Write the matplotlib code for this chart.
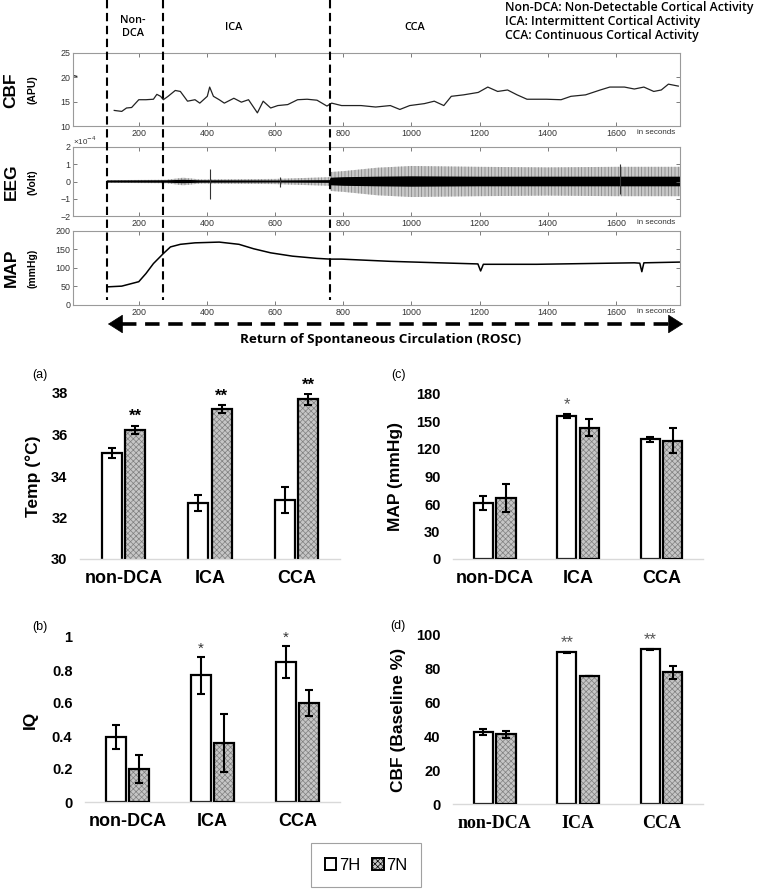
import matplotlib
matplotlib.use('Agg')
import matplotlib.pyplot as plt
import numpy as np
from matplotlib.patches import Patch, FancyArrowPatch
from matplotlib.lines import Line2D
from matplotlib.transforms import blended_transform_factory

plt.rcParams['font.family'] = ['Liberation Sans', 'DejaVu Sans']
plt.rcParams['hatch.linewidth'] = 0.5

# ---------------- time-series data ----------------
phase_bounds = [107, 272, 762]
phase_names = ['Non-\nDCA', 'ICA', 'CCA']
phase_label_t = [182, 479, 1010]

cbf_base_t = [7, 18]
cbf_base_v = [20.4, 20.2]
cbf_t = [128, 150, 164, 179, 200, 221, 243, 253, 264, 272, 286, 307, 322, 343, 365, 379,
         401, 408, 419, 436, 451, 479, 501, 522, 548, 565, 587, 608, 637, 666, 694, 723,
         752, 766, 795, 852, 895, 938, 966, 995, 1038, 1067, 1095, 1117, 1153, 1196, 1224,
         1253, 1282, 1310, 1339, 1396, 1439, 1468, 1511, 1554, 1582, 1625, 1654, 1682,
         1711, 1733, 1754, 1783]
cbf_v = [13.2, 13.0, 13.7, 13.8, 15.4, 15.4, 15.5, 16.5, 16.1, 15.4, 16.1, 17.3, 17.1, 15.1,
         15.4, 14.7, 16.1, 18.0, 16.1, 15.4, 14.7, 15.7, 14.9, 15.4, 12.7, 15.1, 13.7, 14.2,
         14.4, 15.4, 15.5, 15.3, 14.1, 14.7, 14.2, 14.2, 13.9, 14.2, 13.4, 14.2, 14.6, 15.1,
         14.2, 16.1, 16.4, 16.9, 18.0, 17.1, 17.4, 16.4, 15.5, 15.5, 15.4, 16.1, 16.4, 17.4,
         18.0, 18.0, 17.6, 18.0, 17.1, 17.4, 18.6, 18.2]

# EEG amplitude envelopes (x1e-4 V)
eeg_t = [107, 280, 330, 380, 600, 760, 763, 800, 900, 1000, 1200, 1400, 1600, 1788]
eeg_outer = [0.08, 0.10, 0.22, 0.12, 0.15, 0.25, 0.55, 0.60, 0.80, 0.90, 0.85, 0.82, 0.85, 0.85]
eeg_inner = [0.06, 0.07, 0.10, 0.07, 0.06, 0.08, 0.22, 0.25, 0.28, 0.30, 0.28, 0.28, 0.28, 0.28]
eeg_spike_t = [408, 615, 1612]
eeg_spike_lo = [-1.0, -0.3, -0.7]
eeg_spike_hi = [0.7, 0.25, 1.0]

map_t = [107, 150, 200, 221, 243, 272, 293, 322, 365, 436, 494, 537, 587, 651, 723, 762, 795,
         938, 1081, 1195, 1203, 1211, 1224, 1368, 1511, 1654, 1670, 1676, 1682, 1788]
map_v = [49, 51, 63, 85, 112, 139, 157, 164, 168, 170, 164, 152, 141, 132, 126, 124, 124,
         118, 114, 111, 92, 110, 110, 110, 112, 114, 113, 90, 114, 116]

# ---------------- bar chart data ----------------
cats = ['non-DCA', 'ICA', 'CCA']
groups = ['7H', '7N']

temp_7h = [35.1, 32.7, 32.85]
temp_7h_err = [0.24, 0.38, 0.62]
temp_7n = [36.23, 37.23, 37.7]
temp_7n_err = [0.2, 0.2, 0.26]
temp_sig_7h = ['', '', '']
temp_sig_7n = ['**', '**', '**']

map_7h = [61, 156, 130.6]
map_7h_err = [7.6, 2.7, 3.0]
map_7n = [66.4, 143.3, 128.8]
map_7n_err = [15.6, 9.0, 13.6]
map_sig_7h = ['', '*', '']
map_sig_7n = ['', '', '']

iq_7h = [0.394, 0.768, 0.848]
iq_7h_err = [0.074, 0.111, 0.098]
iq_7n = [0.202, 0.358, 0.60]
iq_7n_err = [0.084, 0.178, 0.079]
iq_sig_7h = ['', '*', '*']
iq_sig_7n = ['', '', '']

cbfb_7h = [42.6, 89.7, 91.5]
cbfb_7h_err = [1.7, 0.4, 0.4]
cbfb_7n = [41.2, 75.7, 77.9]
cbfb_7n_err = [2.2, 0.0, 3.8]
cbfb_sig_7h = ['', '**', '**']
cbfb_sig_7n = ['', '', '']

W, H = 760, 892
fig = plt.figure(figsize=(W / 100, H / 100), dpi=100)


def ax_px(l, t, r, b):
    return fig.add_axes([l / W, 1 - b / H, (r - l) / W, (b - t) / H])


def fx(x):
    return x / W


def fy(y):
    return 1 - y / H


# ---------------- top panels ----------------
ax_cbf = ax_px(73, 53, 680, 126)
ax_eeg = ax_px(73, 147, 680, 216)
ax_map = ax_px(73, 231, 680, 305)

xt = list(range(200, 1601, 200))
for ax in (ax_cbf, ax_eeg, ax_map):
    ax.set_xlim(7, 1788)
    ax.set_xticks(xt)
    ax.set_xticklabels([str(v) for v in xt])
    for s in ax.spines.values():
        s.set_color('#9a9a9a')
        s.set_linewidth(0.8)
    ax.tick_params(direction='in', length=3, width=0.6, color='#666666', labelsize=6.4,
                   labelcolor='#333333', top=True, right=True, pad=2)
    ax.annotate('in seconds', xy=(1718, 0), xycoords=blended_transform_factory(ax.transData, ax.transAxes),
                xytext=(0, -2.5), textcoords='offset points', ha='center', va='top',
                fontsize=5.8, color='#333333')

ax_cbf.plot(cbf_base_t, cbf_base_v, color='#222222', lw=0.9)
ax_cbf.plot(cbf_t, cbf_v, color='#222222', lw=0.9)
ax_cbf.set_ylim(10, 25)
ax_cbf.set_yticks([10, 15, 20, 25])

ax_eeg.fill_between(eeg_t, [-v for v in eeg_outer], eeg_outer, facecolor='#c8c8c8',
                    edgecolor='#808080', hatch='|||||', linewidth=0)
ax_eeg.fill_between(eeg_t, [-v for v in eeg_inner], eeg_inner, facecolor='black', linewidth=0)
ax_eeg.vlines(eeg_spike_t, eeg_spike_lo, eeg_spike_hi, color='#333333', lw=0.8)
ax_eeg.set_ylim(-2, 2)
ax_eeg.set_yticks([-2, -1, 0, 1, 2])
ax_eeg.text(0.0, 1.0, '×10$^{-4}$', transform=ax_eeg.transAxes, fontsize=5.8, color='#333333',
            ha='left', va='bottom')

ax_map.plot(map_t, map_v, color='black', lw=1.1)
ax_map.set_ylim(0, 200)
ax_map.set_yticks([0, 50, 100, 150, 200])

# y labels for time series
for (big, small, yc) in [('CBF', '(APU)', 90), ('EEG', '(Volt)', 182), ('MAP', '(mmHg)', 268)]:
    fig.text(fx(11), fy(yc), big, rotation=90, ha='center', va='center', fontsize=12.5,
             fontweight='bold')
    fig.text(fx(33), fy(yc), small, rotation=90, ha='center', va='center', fontsize=7.5,
             fontweight='bold')

# phase boundaries
btr = blended_transform_factory(ax_cbf.transData, fig.transFigure)
for t in phase_bounds:
    fig.add_artist(Line2D([t, t], [fy(0), fy(300)], transform=btr, color='black', lw=1.5,
                          dashes=(4, 2.2)))
for t, name in zip(phase_label_t, phase_names):
    fig.text(t, fy(27), name, transform=btr, ha='center', va='center', fontsize=7.8,
             family='Open Sans', fontweight='semibold', linespacing=1.35)

legend_lines = ['Non-DCA: Non-Detectable Cortical Activity',
                'ICA: Intermittent Cortical Activity',
                'CCA: Continuous Cortical Activity']
for i, s in enumerate(legend_lines):
    fig.text(fx(505), fy(7 + 14.5 * i), s, ha='left', va='center', fontsize=8.8,
             family='Open Sans', fontweight='semibold')

# ROSC arrow
fig.add_artist(Line2D([fx(122), fx(668)], [fy(324), fy(324)], transform=fig.transFigure,
                      color='black', lw=2.6, dashes=(4, 2.4)))
for a, b in [((125, 324), (108, 324)), ((665, 324), (683, 324))]:
    fig.add_artist(FancyArrowPatch((fx(a[0]), fy(a[1])), (fx(b[0]), fy(b[1])),
                                   transform=fig.transFigure, arrowstyle='-|>,head_length=0.55,head_width=0.35',
                                   mutation_scale=18, color='black', lw=0.5, shrinkA=0, shrinkB=0))
fig.text(fx(381), fy(340), 'Return of Spontaneous Circulation (ROSC)', ha='center', va='center',
         fontsize=9.7, family='Open Sans', fontweight='bold')


# ---------------- bar charts ----------------
def bar_panel(ax, h, he, n, ne, sh, sn, ylim, yticks, ytl, ylabel, ylab_x, catfont, catsize,
              starstyle, panel, panel_xy):
    x = np.arange(len(cats))
    w, off = 0.23, 0.135
    ax.bar(x - off, h, w, color='white', edgecolor='black', lw=1.6, zorder=2)
    ax.bar(x + off, n, w, color='#c6c6c6', edgecolor='#7f7f7f', hatch='xxxxxx', lw=0, zorder=2)
    ax.bar(x + off, n, w, fill=False, edgecolor='black', lw=1.6, zorder=3)
    ax.errorbar(x - off, h, yerr=he, fmt='none', ecolor='black', elinewidth=1.5, capsize=2.6,
                capthick=1.5, zorder=4)
    ax.errorbar(x + off, n, yerr=ne, fmt='none', ecolor='black', elinewidth=1.5, capsize=2.6,
                capthick=1.5, zorder=4)
    for xi, v, e, s in zip(x - off, h, he, sh):
        if s:
            ax.annotate(s, (xi, v + e), xytext=(0, 1), textcoords='offset points', ha='center',
                        va='bottom', annotation_clip=False, **starstyle)
    for xi, v, e, s in zip(x + off, n, ne, sn):
        if s:
            ax.annotate(s, (xi, v + e), xytext=(0, 1), textcoords='offset points', ha='center',
                        va='bottom', annotation_clip=False, **starstyle)
    ax.set_xlim(-0.5, 2.5)
    ax.set_ylim(*ylim)
    ax.set_yticks(yticks)
    ax.set_yticklabels(ytl, fontsize=10.5, fontweight='bold')
    ax.set_xticks(x)
    ax.set_xticklabels(cats, fontsize=catsize, fontweight='bold', family=catfont)
    ax.tick_params(length=0, pad=8)
    ax.tick_params(axis='y', pad=9)
    for k in ('top', 'left', 'right'):
        ax.spines[k].set_visible(False)
    ax.spines['bottom'].set_color('#d9d9d9')
    ax.spines['bottom'].set_linewidth(1.0)
    ax.set_ylabel(ylabel, fontsize=12.5, fontweight='bold')
    ax.yaxis.set_label_coords(ylab_x, 0.5)
    fig.text(fx(panel_xy[0]), fy(panel_xy[1]), panel, fontsize=9, ha='center', va='center')


ax_a = ax_px(80, 393, 340, 559)
ax_c = ax_px(453, 394, 703, 559)
ax_b = ax_px(85, 637, 340, 802)
ax_d = ax_px(453, 635, 703, 804)

sans = ['Liberation Sans', 'DejaVu Sans']
serif = ['Liberation Serif', 'DejaVu Serif']

bar_panel(ax_a, temp_7h, temp_7h_err, temp_7n, temp_7n_err, temp_sig_7h, temp_sig_7n,
          (30, 38), [30, 32, 34, 36, 38], ['30', '32', '34', '36', '38'], 'Temp (°C)', -0.15,
          sans, 13, dict(fontsize=12, fontweight='bold', color='black'), '(a)', (40, 375))
bar_panel(ax_c, map_7h, map_7h_err, map_7n, map_7n_err, map_sig_7h, map_sig_7n,
          (0, 180), [0, 30, 60, 90, 120, 150, 180], ['0', '30', '60', '90', '120', '150', '180'],
          'MAP (mmHg)', -0.2, sans, 13, dict(fontsize=12, color='#555555'), '(c)', (398, 375))
bar_panel(ax_b, iq_7h, iq_7h_err, iq_7n, iq_7n_err, iq_sig_7h, iq_sig_7n,
          (0, 1), [0, 0.2, 0.4, 0.6, 0.8, 1.0], ['0', '0.2', '0.4', '0.6', '0.8', '1'],
          'IQ', -0.185, sans, 13, dict(fontsize=11, color='#333333'), '(b)', (40, 627))
bar_panel(ax_d, cbfb_7h, cbfb_7h_err, cbfb_7n, cbfb_7n_err, cbfb_sig_7h, cbfb_sig_7n,
          (0, 100), [0, 20, 40, 60, 80, 100], ['0', '20', '40', '60', '80', '100'],
          'CBF (Baseline %)', -0.19, serif, 13, dict(fontsize=12, color='#555555'), '(d)', (398, 626))

# legend
handles = [Patch(facecolor='white', edgecolor='black', lw=1.4, label=groups[0]),
           Patch(facecolor='#c6c6c6', edgecolor='black', lw=1.4, hatch='xxxxxx', label=groups[1])]
leg = fig.legend(handles=handles, loc='center', bbox_to_anchor=(fx(366), fy(865)), ncol=2,
                 fontsize=12, frameon=True, fancybox=False, edgecolor='#8a8a8a',
                 handlelength=0.7, handleheight=0.7, handletextpad=0.15, columnspacing=0.7,
                 borderpad=0.85, borderaxespad=0)
leg.get_frame().set_linewidth(0.8)

fig.savefig('out.png', dpi=100)
